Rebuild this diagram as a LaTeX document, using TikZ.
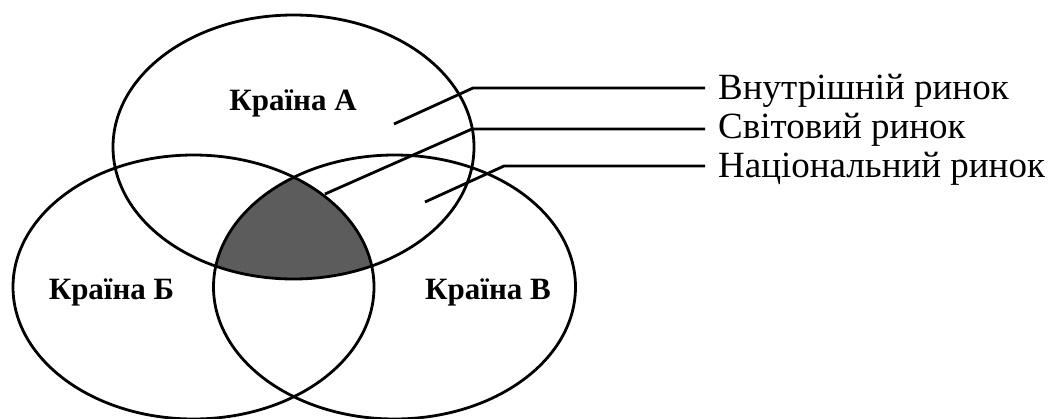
\documentclass[tikz,border=0pt]{standalone}
\usepackage{fontspec}
\setmainfont{Liberation Serif}
\begin{document}
\begin{tikzpicture}[x=1pt,y=-1pt,
  outline/.style={line width=2.8pt,draw=black},
  leader/.style={line width=2.8pt,draw=black},
  country/.style={font=\fontsize{31}{34}\selectfont\bfseries,inner sep=0pt},
  market/.style={font=\fontsize{37}{40}\selectfont,inner sep=0pt,anchor=base west}]
\useasboundingbox (0,0) rectangle (1054,418);
\def\ellA{(293.5,147) ellipse [x radius=180.5pt, y radius=132pt]}
\def\ellB{(193.5,287) ellipse [x radius=180.5pt, y radius=132pt]}
\def\ellC{(394.5,287) ellipse [x radius=181pt, y radius=132pt]}
% shaded common region
\begin{scope}
  \clip \ellA;
  \clip \ellB;
  \fill[fill=black!64] \ellC;
\end{scope}
\draw[outline] \ellA;
\draw[outline] \ellB;
\draw[outline] \ellC;
% country labels
\node[country] (ca) at (293,103) {Країна А};
\node[country] (cb) at (111.5,292) {Країна Б};
\node[country] (cv) at (488,292) {Країна В};
% market labels
\node[market] (m1) at (718,99) {Внутрішній ринок};
\node[market] (m2) at (718,138) {Світовий ринок};
\node[market] (m3) at (718,177) {Національний ринок};
% leader lines
\coordinate (s1) at (394,124); \coordinate (k1) at (473,88); \coordinate (e1) at (705,88);
\coordinate (s2) at (325,194); \coordinate (k2) at (472,129); \coordinate (e2) at (705,129);
\coordinate (s3) at (425,202); \coordinate (k3) at (504,166); \coordinate (e3) at (705,166);
\draw[leader] (s1) -- (k1) -- (e1);
\draw[leader] (s2) -- (k2) -- (e2);
\draw[leader] (s3) -- (k3) -- (e3);
\end{tikzpicture}
\end{document}
